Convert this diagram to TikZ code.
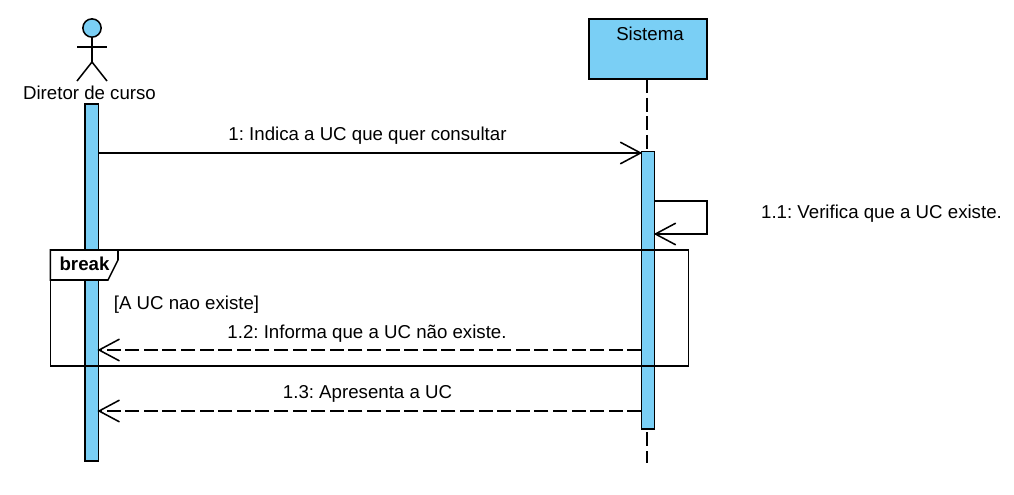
\documentclass[tikz,border=0pt]{standalone}
\usepackage{fontspec}
\setmainfont{Liberation Sans}
\usetikzlibrary{arrows.meta}
\pgfarrowsdeclare{openvee}{openvee}
{\pgfarrowsleftextend{-15pt}\pgfarrowsrightextend{0.6pt}}
{\pgfsetdash{}{0pt}\pgfsetroundcap\pgfsetmiterjoin
 \pgfpathmoveto{\pgfpoint{-15pt}{8pt}}
 \pgfpathlineto{\pgfpoint{0pt}{0pt}}
 \pgfpathlineto{\pgfpoint{-15pt}{-8pt}}
 \pgfusepathqstroke}
\tikzset{
  x=0.75pt,y=-0.75pt,
  every node/.style={font=\fontsize{14pt}{16pt}\selectfont\frenchspacing,text=black,inner sep=0pt,outer sep=0pt},
  ln/.style={draw=black,line width=1.15pt},
  bar/.style={ln,fill=umlblue,minimum width=9.9pt,inner sep=0pt,anchor=north},
  msg/.style={ln,-openvee},
  ret/.style={ln,-openvee,dash pattern=on 10.5pt off 3.45pt},
  life/.style={ln,dash pattern=on 10.5pt off 3.45pt},
  label/.style={anchor=base},
}
\definecolor{umlblue}{HTML}{7ACFF5}
\begin{document}
\begin{tikzpicture}
\useasboundingbox (0,0) rectangle (1014,494);
% actor
\node[ln,fill=umlblue,circle,minimum size=13.7pt] (head) at (92,28) {};
\coordinate (hip) at (92,62);
\coordinate (armL) at (77,47);
\coordinate (armR) at (107,47);
\coordinate (legL) at (77,81);
\coordinate (legR) at (107,81);
\draw[ln] (head.south) -- (hip);
\draw[ln] (armL) -- (armR);
\draw[ln] (legL) -- (hip) -- (legR);
\node[label] (actorname) at (89.5,99) {Diretor de curso};
% system
\node[ln,fill=umlblue,minimum width=88.5pt,minimum height=45pt] (sys) at (648,49) {};
\node[label] (sysname) at (650,40) {Sistema};
% lifelines
\coordinate (sysend) at (647,463);
\draw[life] (sys.south -| sysend) -- (sysend);
% bars
\node[bar,minimum height=267.75pt] (abar) at (91.7,104) {};
\node[bar,minimum height=208pt] (sbar) at (648,151.5) {};
% message anchors
\coordinate (m1) at (0,153);
\coordinate (m2a) at (0,201);
\coordinate (m2b) at (0,234);
\coordinate (m2r) at (707,0);
\coordinate (m3) at (0,350);
\coordinate (m4) at (0,411);
\draw[msg] (abar.east |- m1) -- (sbar.west |- m1);
\draw[msg] (sbar.east |- m2a) -- (m2r |- m2a) -- (m2r |- m2b) -- (sbar.east |- m2b);
% frame
\node[ln,minimum width=478.5pt,minimum height=87pt,anchor=north west] (frame) at (50.4,250) {};
\draw[ln,fill=white] (frame.north west) -- (118,250) -- (118,260) -- (108,280) -- (50.4,280) -- cycle;
\node[label,font=\fontsize{14pt}{16pt}\selectfont\bfseries] (fname) at (84.5,270.5) {break};
\node[label] (guard) at (186.5,309.5) {[A UC nao existe]};
\draw[ret] (sbar.west |- m3) -- (abar.east |- m3);
\draw[ret] (sbar.west |- m4) -- (abar.east |- m4);
% labels
\node[label] (l1) at (367.5,140.5) {1: Indica a UC que quer consultar};
\node[label] (l2) at (881.5,218.5) {1.1: Verifica que a UC existe.};
\node[label] (l3) at (367,338) {1.2: Informa que a UC não existe.};
\node[label] (l4) at (367.5,398.5) {1.3: Apresenta a UC};
\end{tikzpicture}
\end{document}
